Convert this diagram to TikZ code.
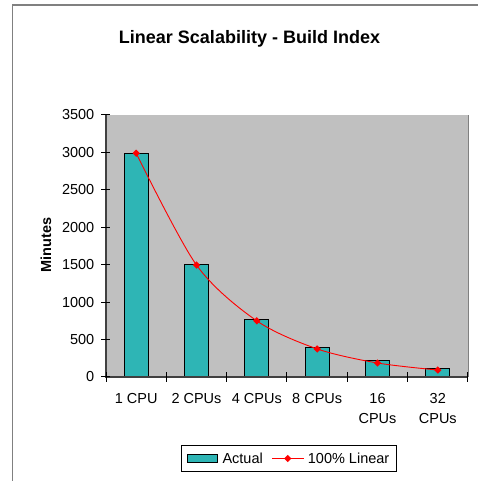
\documentclass[tikz,border=0pt]{standalone}
\usepackage{fontspec}
\setmainfont{Liberation Sans}
\usetikzlibrary{shapes.geometric}
\definecolor{barteal}{RGB}{46,181,181}
\definecolor{plotgray}{RGB}{192,192,192}
\definecolor{framegray}{RGB}{128,128,128}
\definecolor{axisgray}{RGB}{64,64,64}
\tikzset{
  bar/.style={draw=black, line width=0.9pt, fill=barteal},
  marker/.style={diamond, fill=red, draw=none, inner sep=0pt, minimum size=7.5pt},
  ticklbl/.style={font=\fontsize{14.5}{20}\selectfont, inner sep=0pt},
  axisline/.style={draw=axisgray, line width=1.3pt},
  tickline/.style={draw=black, line width=1pt},
}
\newcommand{\vy}[1]{104+#1/3500*262}
\begin{document}
\begin{tikzpicture}[x=1pt,y=1pt]
\useasboundingbox (0,0) rectangle (478,481);
% outer frame
\coordinate (FA) at (12.3,0);
\coordinate (FB) at (12.3,476);
\coordinate (FC) at (478,476);
\draw[framegray, line width=1.6pt] (FA) -- (FB) -- (FC);
% title
\node[anchor=base, inner sep=0pt, font=\fontsize{18}{20}\selectfont\bfseries] (title) at (249.5,437) {Linear Scalability - Build Index};
% plot area
\fill[plotgray] (106,104) rectangle (468,366);
\draw[framegray, line width=0.8pt] (468,104) -- (468,366);
% bars
\foreach \i/\v in {0/2990,1/1505,2/770,3/397,4/222,5/116}{
  \pgfmathsetmacro{\cx}{106+60.33*(\i+0.5)}
  \pgfmathsetmacro{\ty}{104+\v/3500*262}
  \draw[bar] (\cx-12,104) rectangle (\cx+12,\ty);
}
% axes
\coordinate (O) at (106,104);
\coordinate (YT) at (106,366);
\coordinate (XR) at (468,104);
\draw[axisline] (YT) -- (O) -- (XR);
% y ticks and labels
\foreach \v in {0,500,...,3500}{
  \pgfmathsetmacro{\ty}{104+\v/3500*262}
  \draw[tickline] (101,\ty) -- (110,\ty);
  \node[ticklbl, anchor=east] (y\v) at (94.5,\ty) {\v};
}
% x ticks
\foreach \i in {0,...,6}{
  \pgfmathsetmacro{\tx}{106+60.33*\i}
  \draw[tickline] (\tx,99) -- (\tx,109);
}
% x labels
\node[ticklbl, anchor=north, align=center] (c1) at (136.2,87.7) {1 CPU};
\node[ticklbl, anchor=north, align=center] (c2) at (196.5,87.7) {2 CPUs};
\node[ticklbl, anchor=north, align=center] (c3) at (256.8,87.7) {4 CPUs};
\node[ticklbl, anchor=north, align=center] (c4) at (317.2,87.7) {8 CPUs};
\node[ticklbl, anchor=north, align=center] (c5) at (377.5,87.7) {16\\CPUs};
\node[ticklbl, anchor=north, align=center] (c6) at (437.8,87.7) {32\\CPUs};
% axis title
\node[ticklbl, font=\fontsize{14.5}{20}\selectfont\bfseries, rotate=90] (ylab) at (46,236) {Minutes};
% linear line
\coordinate (L1) at (136.2,{\vy{2990}});
\coordinate (L2) at (196.5,{\vy{1495}});
\coordinate (L3) at (256.8,{\vy{750}});
\coordinate (L4) at (317.2,{\vy{375}});
\coordinate (L5) at (377.5,{\vy{187}});
\coordinate (L6) at (437.8,{\vy{93}});
\draw[red, line width=0.9pt] plot[smooth, tension=0.5] coordinates {(L1) (L2) (L3) (L4) (L5) (L6)};
\foreach \k in {1,...,6}{ \node[marker] (m\k) at (L\k) {}; }
% legend
\node[draw=black, line width=0.9pt, fill=white, minimum width=215pt, minimum height=25.7pt, inner sep=0pt] (legend) at (289.2,22.3) {};
\draw[bar] (187.3,18.3) rectangle (217.3,26.7);
\node[ticklbl, anchor=west] (lact) at (222.3,22.5) {Actual};
\coordinate (LA) at (272.3,22.5);
\coordinate (LB) at (304,22.5);
\draw[red, line width=0.9pt] (LA) -- (LB);
\node[marker] (lm) at (287.7,22.5) {};
\node[ticklbl, anchor=west] (llin) at (307.7,22.5) {100\% Linear};
\end{tikzpicture}
\end{document}
